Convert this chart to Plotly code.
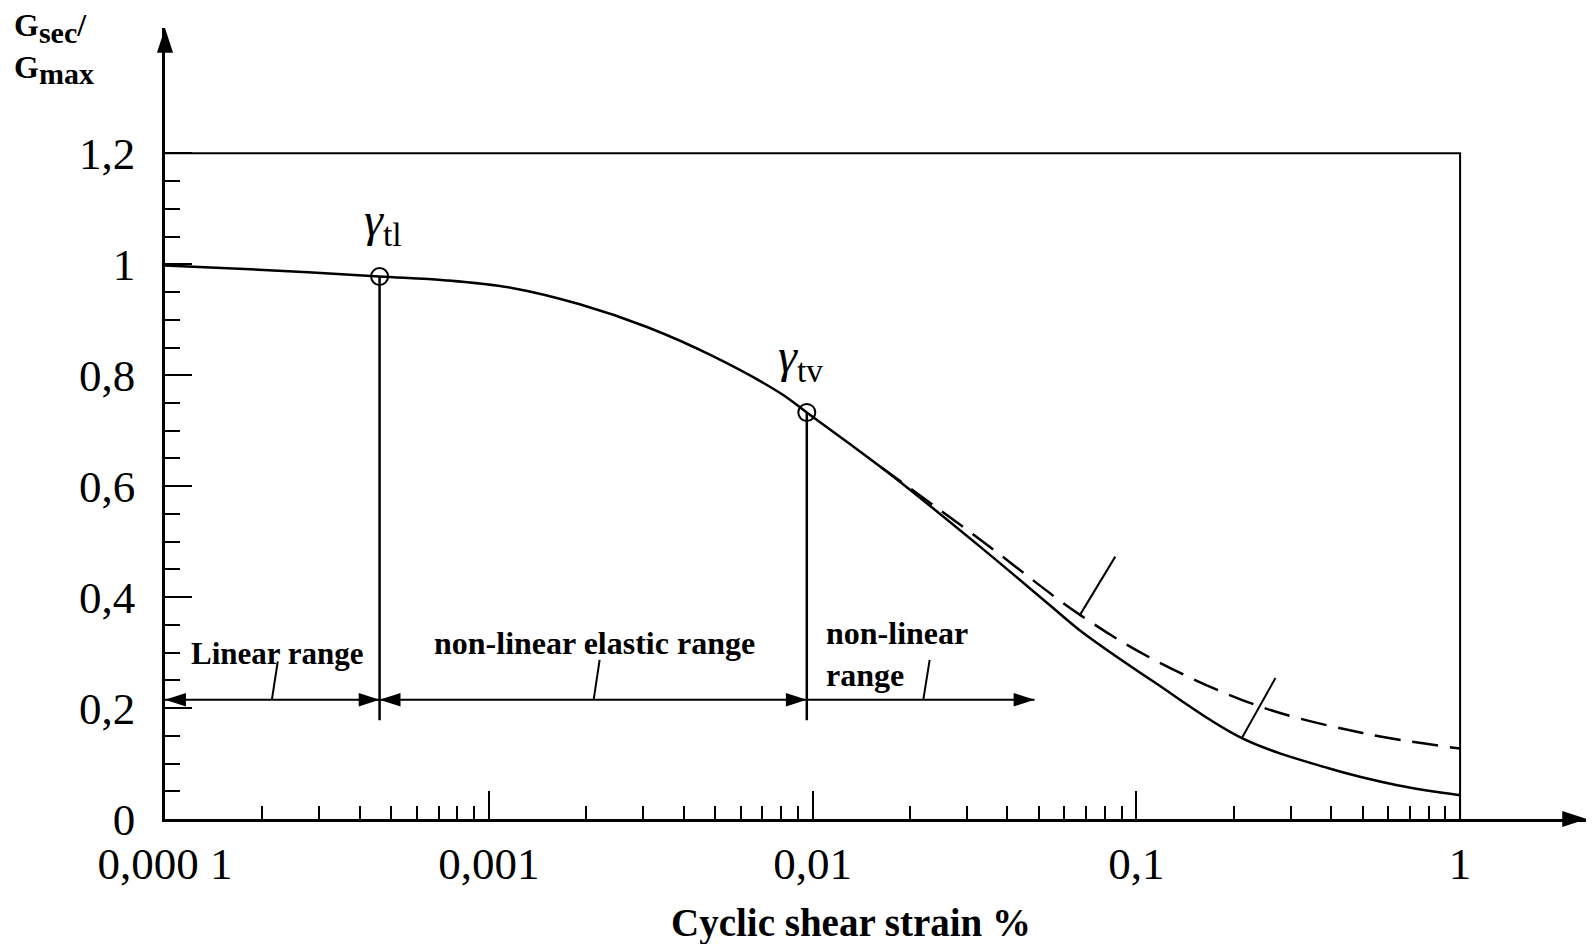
import math
import plotly.graph_objects as go

# ---------------- data ----------------
strain_solid = [0.0001, 0.000216, 0.00046, 0.000741, 0.00119, 0.00191, 0.00308, 0.00494,
                0.00794, 0.0096, 0.01276, 0.01778, 0.0329, 0.0542, 0.067, 0.1135,
                0.2118, 0.39, 0.64, 1.0]
g_solid = [0.998, 0.989, 0.978, 0.971, 0.957, 0.928, 0.887, 0.834,
           0.768, 0.733, 0.680, 0.617, 0.491, 0.385, 0.340, 0.247,
           0.146, 0.092, 0.061, 0.043]

strain_dashed = [0.0162, 0.0329, 0.067, 0.1135, 0.2377, 0.5, 1.0]
g_dashed = [0.635, 0.504, 0.368, 0.287, 0.204, 0.155, 0.127]

gamma_points = [0.00046, 0.0096]          # gamma_tl, gamma_tv
gamma_g = [0.978, 0.733]
gamma_labels = ["<i>γ</i><sub>tl</sub>", "<i>γ</i><sub>tv</sub>"]

range_level = 0.215        # level of the range arrows
range_line_bottom = 0.178  # bottom of the vertical threshold lines
range_end = 0.0485         # end of the non-linear range arrow
range_labels = ["<b>Linear range</b>", "<b>non-linear elastic range</b>", "<b>non-linear<br>range</b>"]

# small leader strokes
leader_x = [[0.000214, 0.000223], [0.00211, 0.0022], [0.022, 0.023]]
leader_y = [[0.216, 0.284], [0.216, 0.287], [0.216, 0.287]]
curve_mark_x = [[0.067, 0.0861], [0.2118, 0.269]]
curve_mark_y = [[0.368, 0.473], [0.146, 0.254]]

x_tickvals = [0.0001, 0.001, 0.01, 0.1, 1]
x_ticktext = ["0,000 1", "0,001", "0,01", "0,1", "1"]
x_minor = [m * d for d in [0.0001, 0.001, 0.01, 0.1] for m in range(2, 10)]
y_tickvals = [0, 0.2, 0.4, 0.6, 0.8, 1.0, 1.2]
y_ticktext = ["0", "0,2", "0,4", "0,6", "0,8", "1", "1,2"]
y_minor = [round(0.05 * k, 2) for k in range(1, 24) if k % 4 != 0]

X_RANGE_LOG = [-4, 0.392]
Y_RANGE = [0, 1.426]

SERIF = "Liberation Serif"
BLACK = "black"

fig = go.Figure()

# frame (top and right)
fig.add_trace(go.Scatter(x=[x_tickvals[0], x_tickvals[-1], x_tickvals[-1]],
                         y=[y_tickvals[-1], y_tickvals[-1], 0], mode="lines",
                         line=dict(color=BLACK, width=2), hoverinfo="skip"))

# main curves
fig.add_trace(go.Scatter(x=strain_solid, y=g_solid, mode="lines",
                         line=dict(color=BLACK, width=2.5, shape="spline", smoothing=1.0)))
fig.add_trace(go.Scatter(x=strain_dashed, y=g_dashed, mode="lines",
                         line=dict(color=BLACK, width=2.5, dash="26px,12px", shape="spline", smoothing=1.0)))

# threshold vertical lines
for gx, gy in zip(gamma_points, gamma_g):
    fig.add_trace(go.Scatter(x=[gx, gx], y=[range_line_bottom, gy], mode="lines",
                             line=dict(color=BLACK, width=2.5)))

# range arrows shafts
arrow_segments = [(x_tickvals[0], gamma_points[0]), (gamma_points[0], gamma_points[1]), (gamma_points[1], range_end)]
for a, b in arrow_segments:
    fig.add_trace(go.Scatter(x=[a, b], y=[range_level, range_level], mode="lines",
                             line=dict(color=BLACK, width=2)))
# arrow heads
head_x = [x_tickvals[0], gamma_points[0], gamma_points[0], gamma_points[1], range_end]
head_angle = [-90, 90, -90, 90, 90]
fig.add_trace(go.Scatter(x=head_x, y=[range_level] * len(head_x), mode="markers",
                         marker=dict(symbol="arrow", size=22, angle=head_angle, color=BLACK,
                                     line=dict(width=0)), cliponaxis=False))

# leader strokes
for lx, ly in zip(leader_x + curve_mark_x, leader_y + curve_mark_y):
    fig.add_trace(go.Scatter(x=lx, y=ly, mode="lines", line=dict(color=BLACK, width=2)))

# threshold circles
fig.add_trace(go.Scatter(x=gamma_points, y=gamma_g, mode="markers",
                         marker=dict(symbol="circle-open", size=17, color=BLACK, line=dict(width=2))))

# axis arrow heads
x_end = 10 ** X_RANGE_LOG[1]
fig.add_trace(go.Scatter(x=[x_end, x_tickvals[0]], y=[0, Y_RANGE[1]], mode="markers",
                         marker=dict(symbol="arrow", size=26, angle=[90, 0], color=BLACK,
                                     line=dict(width=0)), cliponaxis=False))

annotations = []
# gamma labels
annotations.append(dict(x=math.log10(gamma_points[0]) + 0.01, y=1.075, text=gamma_labels[0],
                        showarrow=False, yanchor="middle",
                        font=dict(family=SERIF, size=48, color=BLACK)))
annotations.append(dict(x=math.log10(gamma_points[1]) - 0.02, y=0.83, text=gamma_labels[1],
                        showarrow=False, yanchor="middle",
                        font=dict(family=SERIF, size=48, color=BLACK)))
# range labels
annotations.append(dict(x=-3.6525, y=0.298, text=range_labels[0], showarrow=False,
                        font=dict(family=SERIF, size=31, color=BLACK)))
annotations.append(dict(x=-2.6727, y=0.3165, text=range_labels[1], showarrow=False,
                        font=dict(family=SERIF, size=32, color=BLACK)))
annotations.append(dict(x=-1.966, y=0.2975, text=range_labels[2], showarrow=False,
                        xanchor="left", align="left",
                        font=dict(family=SERIF, size=32, color=BLACK)))
# axis titles
annotations.append(dict(xref="paper", yref="paper", x=0.4824, y=-0.131, yanchor="middle",
                        xanchor="center",
                        text="<b>Cyclic shear strain %</b>", showarrow=False,
                        font=dict(family=SERIF, size=39, color=BLACK)))
annotations.append(dict(xref="paper", yref="paper", x=-0.1076, y=0.974, xanchor="left",
                        yanchor="middle", align="left",
                        text=("<b>G<sub><span style='font-size:30px'>sec</span></sub>/<br>"
                              "G<sub><span style='font-size:30px'>max</span></sub></b>"),
                        showarrow=False, font=dict(family=SERIF, size=32, color=BLACK)))

fig.update_layout(
    width=1594, height=944,
    # the page body adds an 8 px offset; margins compensate so the plot sits where it should
    margin=dict(l=157, r=15, t=20, b=133),
    paper_bgcolor="white", plot_bgcolor="white",
    showlegend=False,
    annotations=annotations,
    xaxis=dict(type="log", range=X_RANGE_LOG, showline=True, linecolor=BLACK, linewidth=2.5,
               showgrid=False, zeroline=False, ticks="inside", tickvals=x_tickvals,
               ticktext=x_ticktext, ticklen=28, tickwidth=2, tickcolor=BLACK,
               minor=dict(ticks="inside", tickvals=x_minor, ticklen=13, tickwidth=2,
                          tickcolor=BLACK, showgrid=False),
               tickfont=dict(family=SERIF, size=45, color=BLACK), ticklabelstandoff=3),
    yaxis=dict(range=Y_RANGE, showline=True, linecolor=BLACK, linewidth=2.5,
               showgrid=False, zeroline=False, ticks="inside", tickvals=y_tickvals,
               ticktext=y_ticktext, ticklen=27, tickwidth=2, tickcolor=BLACK,
               minor=dict(ticks="inside", tickvals=y_minor, ticklen=15, tickwidth=2,
                          tickcolor=BLACK, showgrid=False),
               tickfont=dict(family=SERIF, size=45, color=BLACK), ticklabelstandoff=18),
)

fig.write_html("out.html")
